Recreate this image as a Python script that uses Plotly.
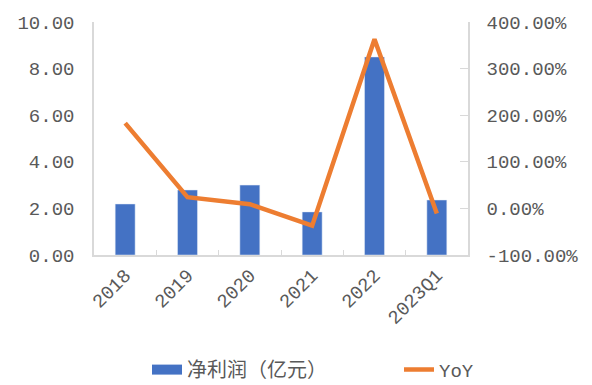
import plotly.graph_objects as go

categories = ["2018", "2019", "2020", "2021", "2022", "2023Q1"]
net_profit = [2.19, 2.79, 3.00, 1.85, 8.50, 2.36]
yoy_pct = [183, 24, 9, -37, 363, -11]

left_ticks = [0, 2, 4, 6, 8, 10]
left_labels = ["0.00", "2.00", "4.00", "6.00", "8.00", "10.00"]
right_ticks = [-100, 0, 100, 200, 300, 400]
right_labels = ["-100.00%", "0.00%", "100.00%", "200.00%", "300.00%", "400.00%"]

FONT = "Liberation Mono, Noto Sans CJK SC, monospace"
GRAY = "#595959"
AXIS = "#D9D9D9"
BLUE = "#4472C4"
ORANGE = "#ED7D31"

fig = go.Figure()
fig.add_trace(go.Bar(x=categories, y=net_profit, name="净利润（亿元）",
                     marker=dict(color=BLUE), yaxis="y", showlegend=False))
# legend-only entry drawn as a wide rectangle like the reference
fig.add_trace(go.Scatter(x=[None], y=[None], name="净利润（亿元）", mode="lines",
                         line=dict(color=BLUE, width=10), yaxis="y",
                         legend="legend"))
fig.add_trace(go.Scatter(x=categories, y=yoy_pct, name="YoY", mode="lines",
                         line=dict(color=ORANGE, width=4.5), yaxis="y2",
                         legend="legend2"))

legend_common = dict(orientation="h", xref="container", yref="container",
                     xanchor="left", y=0.04, yanchor="middle",
                     bgcolor="rgba(0,0,0,0)")

fig.update_layout(
    width=592, height=385,
    margin=dict(l=94, r=124, t=22, b=130),
    paper_bgcolor="white", plot_bgcolor="white",
    bargap=0.68,
    showlegend=True,
    legend=dict(x=147 / 592, font=dict(family=FONT, size=20, color=GRAY),
                **legend_common),
    legend2=dict(x=399 / 592, font=dict(family=FONT, size=19, color=GRAY),
                 **legend_common),
    xaxis=dict(type="category", showline=True, linecolor=AXIS, linewidth=1.5,
               ticks="inside", tickson="boundaries", tickcolor=AXIS, ticklen=5,
               tickangle=-45, tickfont=dict(family=FONT, size=19, color=GRAY),
               showgrid=False, zeroline=False),
    yaxis=dict(range=[0, 10], tickvals=left_ticks, ticktext=left_labels,
               showline=True, linecolor=AXIS, linewidth=1.5, ticks="",
               tickfont=dict(family=FONT, size=19, color=GRAY),
               showgrid=False, zeroline=False, ticklabelstandoff=14),
    yaxis2=dict(range=[-100, 400], tickvals=right_ticks, ticktext=right_labels,
                overlaying="y", side="right", showline=True, linecolor=AXIS,
                linewidth=1.5, ticks="inside", tickcolor=AXIS, ticklen=8,
                tickfont=dict(family=FONT, size=19, color=GRAY),
                showgrid=False, zeroline=False, ticklabelstandoff=13),
)

fig.write_html("out.html")
